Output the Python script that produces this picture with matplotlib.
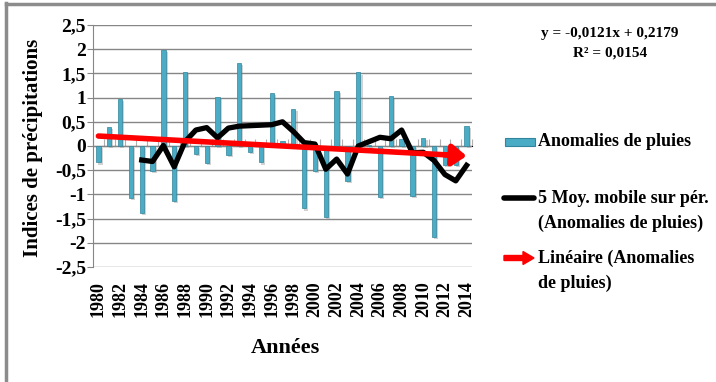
import numpy as np
import matplotlib
matplotlib.use("Agg")
import matplotlib.pyplot as plt
from matplotlib.patches import Rectangle, FancyArrow
from matplotlib.lines import Line2D
import matplotlib.patheffects as pe

# values
years = list(range(1980, 2015))
anomalies = [-0.34, 0.39, 0.98, -1.07, -1.39, -0.51, 1.98, -1.14, 1.53, -0.17,
             -0.35, 1.02, -0.18, 1.71, -0.12, -0.34, 1.10, 0.10, 0.76, -1.29,
             -0.51, -1.46, 1.14, -0.73, 1.52, 0.02, -1.05, 1.03, 0.15, -1.03,
             0.16, -1.87, -0.39, -0.40, 0.42]
ma_years = list(range(1984, 2015))
moving_avg = [-0.29, -0.32, 0.01, -0.43, 0.09, 0.33, 0.38, 0.17, 0.37, 0.41,
              0.42, 0.43, 0.44, 0.50, 0.30, 0.07, 0.04, -0.48, -0.27, -0.58,
              0.00, 0.09, 0.18, 0.15, 0.33, -0.14, -0.13, -0.30, -0.59, -0.72,
              -0.40]
slope = -0.0121
intercept = 0.2179
r2 = 0.0154
yticks = [2.5, 2, 1.5, 1, 0.5, 0, -0.5, -1, -1.5, -2, -2.5]

serif = "Liberation Serif"
grid_c = "#868686"
bar_c = "#4bacc6"

fig = plt.figure(figsize=(7.16, 3.82), dpi=100)
ax = fig.add_axes([93 / 716, 1 - 267 / 382, 379 / 716, 242 / 382])

x = np.arange(len(years))
bars = ax.bar(x, anomalies, width=0.4, color=bar_c, edgecolor="#31859c",
              linewidth=0.5, zorder=2)
for b in bars:
    b.set_path_effects([pe.SimplePatchShadow(offset=(1.5, -1.5), shadow_rgbFace="gray", alpha=0.35),
                        pe.Normal()])

xm = np.array([years.index(y) for y in ma_years])
ax.plot(xm, moving_avg, color="black", lw=3.8, zorder=4, solid_joinstyle="round")

t = np.arange(1, len(years) + 1)
trend = slope * t + intercept
ax.plot(x[:-1], trend[:-1], color="red", lw=4, zorder=5, solid_capstyle="round")
ax.annotate("", xy=(x[-1], trend[-1]), xytext=(x[-3], trend[-3]),
            arrowprops=dict(arrowstyle="-|>,head_length=0.6,head_width=0.45",
                            color="red", lw=4, mutation_scale=14,
                            shrinkA=0, shrinkB=0), zorder=5)

ax.set_xlim(-0.5, len(years) - 0.5)
ax.set_ylim(-2.5, 2.5)
ax.set_yticks(yticks)
ax.set_yticklabels([("%g" % v).replace(".", ",") for v in yticks],
                   fontfamily=serif, fontweight="bold", fontsize=14)
ax.yaxis.grid(True, color=grid_c, lw=1)
ax.set_axisbelow(True)
ax.tick_params(axis="y", direction="out", length=4, color=grid_c, pad=1)

ax.set_xticks(x[::2])
ax.set_xticklabels([str(y) for y in years[::2]], rotation=90,
                   fontfamily=serif, fontweight="bold", fontsize=13)
ax.tick_params(axis="x", length=0, pad=10)

for s in ["top", "right", "bottom"]:
    ax.spines[s].set_visible(False)
ax.spines["left"].set_color(grid_c)

# category axis crossing at zero
sec = ax.secondary_xaxis(0.5)
sec.set_xticks(np.arange(-0.5, len(years), 1))
sec.set_xticklabels([])
sec.tick_params(axis="x", direction="out", length=5, color="#b0b0b0")
sec.spines["bottom"].set_color(grid_c)

fig.text(33 / 716, 1 - 148 / 382, "Indices de précipitations", rotation=90,
         ha="center", va="center", fontfamily=serif, fontweight="bold", fontsize=15)
fig.text(285 / 716, 1 - 348 / 382, "Années", ha="center", va="center",
         fontfamily=serif, fontweight="bold", fontsize=16)

fig.text(610 / 716, 1 - 34 / 382, "y = -0,0121x + 0,2179", ha="center", va="center",
         fontfamily=serif, fontweight="bold", fontsize=11)
fig.text(610 / 716, 1 - 53 / 382, ("R² = %.4f" % r2).replace(".", ","), ha="center", va="center",
         fontfamily=serif, fontweight="bold", fontsize=11)

# legend drawn by hand
def fy(py):
    return 1 - py / 382

def fx(px):
    return px / 716

fig.patches.append(Rectangle((fx(505), fy(146)), fx(30), 8 / 382, transform=fig.transFigure,
                             facecolor=bar_c, edgecolor="#31859c", lw=0.8))
fig.lines.append(Line2D([fx(504), fx(534)], [fy(198), fy(198)], transform=fig.transFigure,
                        color="black", lw=4, solid_capstyle="round"))
fig.patches.append(FancyArrow(fx(504), fy(258), fx(30), 0, width=5 / 382, head_width=13 / 382,
                              head_length=fx(11), length_includes_head=True,
                              transform=fig.transFigure, color="red"))

legend_lines = [("Anomalies de pluies", 142), ("5 Moy. mobile sur pér.", 198),
                ("(Anomalies de pluies)", 223), ("Linéaire (Anomalies", 258),
                ("de pluies)", 283)]
for txt, py in legend_lines:
    fig.text(fx(538), fy(py), txt, ha="left", va="center", fontfamily=serif,
             fontweight="bold", fontsize=13)

# frame of the chart area
fig.lines.append(Line2D([fx(5.5), fx(5.5)], [0, fy(3)], transform=fig.transFigure,
                        color="#8c8c8c", lw=2.5))
fig.lines.append(Line2D([fx(5.5), 1], [fy(3.5), fy(3.5)], transform=fig.transFigure,
                        color="#8c8c8c", lw=2.5))

fig.savefig("out.png", dpi=100)
